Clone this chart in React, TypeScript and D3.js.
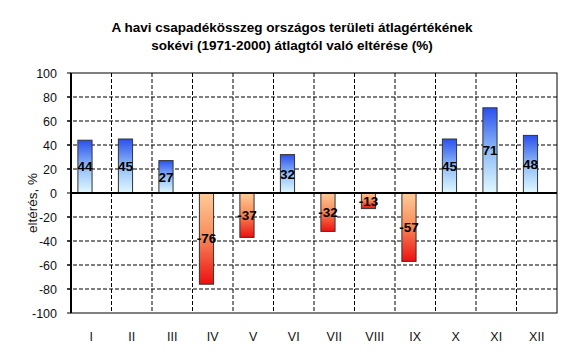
import React from "react";
import * as d3 from "d3";

const months = ["I", "II", "III", "IV", "V", "VI", "VII", "VIII", "IX", "X", "XI", "XII"];
const values = [44, 45, 27, -76, -37, 32, -32, -13, -57, 45, 71, 48];
const yTicks = [100, 80, 60, 40, 20, 0, -20, -40, -60, -80, -100];
const titleLines = [
  "A havi csapadékösszeg országos területi átlagértékének",
  "sokévi (1971-2000) átlagtól  való eltérése (%)",
];

const width = 567;
const height = 352;
const left = 71;
const right = 557;
const top = 73;
const bottom = 313;
const font = "'Liberation Sans', Arial, sans-serif";

const App = () => {
  const x = d3.scaleBand().domain(months).range([left, right]).padding(0);
  const y = d3.scaleLinear().domain([-100, 100]).range([bottom, top]);
  const bw = x.bandwidth();
  const barW = bw * 0.35;
  const barOff = bw * 0.17;

  return (
    <svg
      width={width}
      height={height}
      style={{ position: "absolute", left: 0, top: 0, background: "#fff", fontFamily: font }}
    >
      <defs>
        <linearGradient id="posGrad" x1="0" y1="0" x2="0" y2="1">
          <stop offset="0%" stopColor="#2a4fec" />
          <stop offset="50%" stopColor="#8fbcf8" />
          <stop offset="100%" stopColor="#e2faff" />
        </linearGradient>
        <linearGradient id="negGrad" x1="0" y1="0" x2="0" y2="1">
          <stop offset="0%" stopColor="#ffcc99" />
          <stop offset="45%" stopColor="#f8905e" />
          <stop offset="100%" stopColor="#ee1010" />
        </linearGradient>
      </defs>

      {/* title */}
      {titleLines.map((t, i) => (
        <text
          key={i}
          x={292}
          y={32 + i * 18}
          textAnchor="middle"
          fontSize={13.5}
          fontWeight="bold"
          fill="#000"
        >
          {t}
        </text>
      ))}

      {/* horizontal grid */}
      {yTicks
        .filter((v) => v !== 0 && v !== 100 && v !== -100)
        .map((v) => (
          <line
            key={"h" + v}
            x1={left - 4}
            x2={right}
            y1={y(v)}
            y2={y(v)}
            stroke="#000"
            strokeWidth={1}
            strokeDasharray="4,2"
          />
        ))}
      {/* vertical grid */}
      {months.slice(1).map((m) => (
        <line
          key={"v" + m}
          x1={x(m)}
          x2={x(m)}
          y1={top}
          y2={bottom}
          stroke="#000"
          strokeWidth={1}
          strokeDasharray="4,2"
        />
      ))}

      {/* frame */}
      <rect x={left} y={top} width={right - left} height={bottom - top} fill="none" stroke="#000" strokeWidth={1} />
      {yTicks.map((v) => (
        <line key={"t" + v} x1={left - 4} x2={left} y1={y(v)} y2={y(v)} stroke="#000" />
      ))}

      {/* bars */}
      {values.map((v, i) => {
        const x0 = (x(months[i]) as number) + barOff;
        const y0 = Math.min(y(v), y(0));
        const h = Math.abs(y(v) - y(0));
        return (
          <rect
            key={"b" + i}
            x={x0}
            y={y0}
            width={barW}
            height={h}
            fill={v >= 0 ? "url(#posGrad)" : "url(#negGrad)"}
            stroke="#333"
            strokeWidth={1}
          />
        );
      })}

      {/* zero line and left axis */}
      <line x1={left} x2={right} y1={y(0)} y2={y(0)} stroke="#000" strokeWidth={2} />
      <line x1={left} x2={left} y1={top} y2={bottom} stroke="#000" strokeWidth={2} />

      {/* value labels */}
      {values.map((v, i) => {
        const cx = (x(months[i]) as number) + barOff + barW / 2;
        return (
          <text
            key={"l" + i}
            x={cx}
            y={(y(v) + y(0)) / 2}
            dy="0.36em"
            textAnchor="middle"
            fontSize={13.5}
            fontWeight="bold"
            fill="#000"
          >
            {v}
          </text>
        );
      })}

      {/* y tick labels */}
      {yTicks.map((v) => (
        <text key={"y" + v} x={left - 14} y={y(v)} dy="0.36em" textAnchor="end" fontSize={12.5} fill="#111">
          {v}
        </text>
      ))}

      {/* x labels */}
      {months.map((m) => (
        <text
          key={"x" + m}
          x={(x(m) as number) + bw / 2}
          y={341}
          textAnchor="middle"
          fontSize={12.5}
          fill="#111"
        >
          {m}
        </text>
      ))}

      {/* y axis title */}
      <text
        transform={`translate(37,${y(0) + 10}) rotate(-90)`}
        textAnchor="middle"
        fontSize={13.5}
        fill="#111"
      >
        eltérés, %
      </text>
    </svg>
  );
};

export default App;
